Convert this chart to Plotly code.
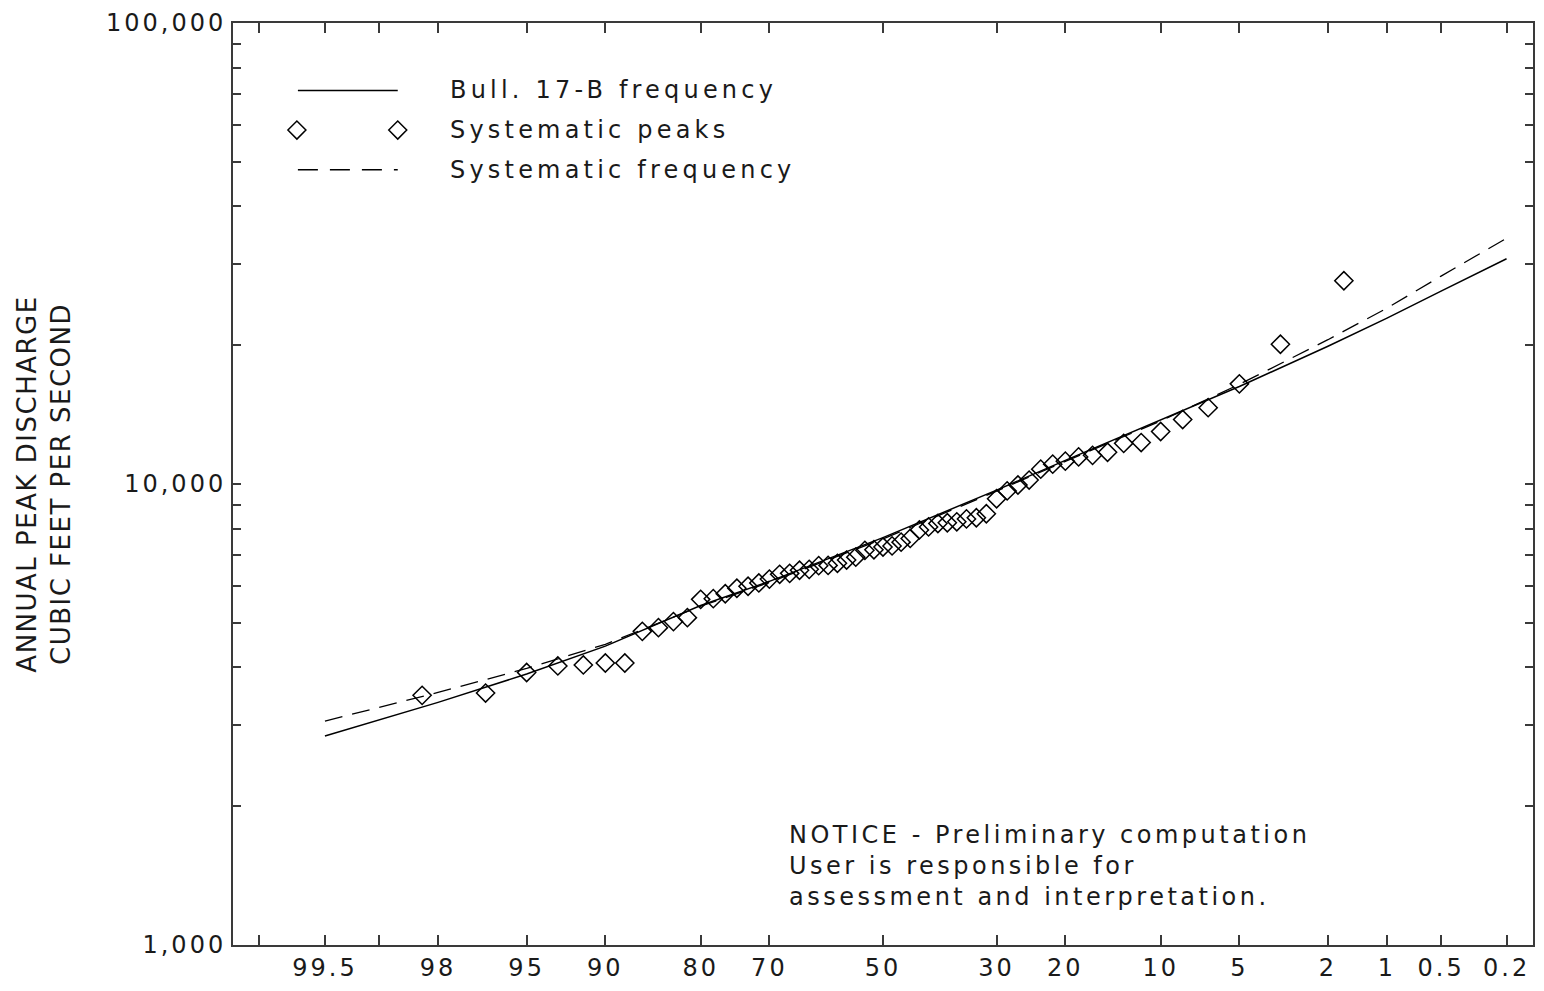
import plotly.graph_objects as go
from statistics import NormalDist

_nd = NormalDist()


def zval(p_exceed_pct):
    """Normal-probability axis position for an exceedance probability (percent)."""
    return _nd.inv_cdf(1.0 - p_exceed_pct / 100.0)


# ---------------- data ----------------
prob_ticks = [99.8, 99.5, 99, 98, 95, 90, 80, 70, 50, 30, 20, 10, 5, 2, 1, 0.5, 0.2]
prob_labels = ["", "99.5", "", "98", "95", "90", "80", "70", "50", "30", "20",
               "10", "5", "2", "1", "0.5", "0.2"]

q_ticks = [1000, 2000, 3000, 4000, 5000, 6000, 7000, 8000, 9000,
           10000, 20000, 30000, 40000, 50000, 60000, 70000, 80000, 90000, 100000]
q_labels = ["1,000", "", "", "", "", "", "", "", "",
            "10,000", "", "", "", "", "", "", "", "", "100,000"]

curve_prob = [99.5, 99, 98, 95, 90, 80, 70, 50, 30, 20, 10, 5, 2, 1, 0.5, 0.2]
bull17b_q = [2840, 3080, 3360, 3870, 4450, 5450, 6150, 7650, 9700, 11250,
             13750, 16270, 19900, 22900, 26200, 30800]
systematic_q = [3060, 3280, 3530, 3980, 4490, 5430, 6120, 7600, 9650, 11200,
                13700, 16450, 20560, 24070, 28250, 34130]

peak_prob = [1.67, 3.33, 5.00, 6.67, 8.33, 10.00, 11.67, 13.33, 15.00, 16.67,
             18.33, 20.00, 21.67, 23.33, 25.00, 26.67, 28.33, 30.00, 31.67, 33.33,
             35.00, 36.67, 38.33, 40.00, 41.67, 43.33, 45.00, 46.67, 48.33, 50.00,
             51.67, 53.33, 55.00, 56.67, 58.33, 60.00, 61.67, 63.33, 65.00, 66.67,
             68.33, 70.00, 71.67, 73.33, 75.00, 76.67, 78.33, 80.00, 81.67, 83.33,
             85.00, 86.67, 88.33, 90.00, 91.67, 93.33, 95.00, 96.67, 98.33]
peak_q = [27600, 20100, 16490, 14640, 13800, 13000, 12300, 12250, 11720, 11540,
          11450, 11210, 11040, 10770, 10200, 9950, 9660, 9290, 8620, 8450,
          8400, 8280, 8240, 8210, 8070, 7950, 7620, 7480, 7340, 7300,
          7200, 7180, 6940, 6840, 6730, 6660, 6650, 6530, 6500, 6400,
          6370, 6220, 6100, 6000, 5940, 5780, 5640, 5620, 5130, 5030,
          4880, 4790, 4090, 4090, 4050, 4030, 3900, 3520, 3480]

legend_names = ["Bull. 17-B frequency", "Systematic peaks", "Systematic frequency"]
notice_lines = ["NOTICE - Preliminary computation",
                "User is responsible for",
                "assessment and interpretation."]

# ---------------- figure ----------------
FONT = "DejaVu Sans"
INK = "#1a1a1a"
AX = "#3a3a3a"


def spaced(s, px):
    return f'<span style="letter-spacing:{px}px">{s}</span>' if s else ""


fig = go.Figure()

fig.add_trace(go.Scatter(
    x=[zval(p) for p in curve_prob], y=bull17b_q, mode="lines",
    line=dict(color="black", width=1.5), name=legend_names[0], showlegend=False))
fig.add_trace(go.Scatter(
    x=[zval(p) for p in curve_prob], y=systematic_q, mode="lines",
    line=dict(color="black", width=1.3, dash="18px,10px"),
    name=legend_names[2], showlegend=False))
fig.add_trace(go.Scatter(
    x=[zval(p) for p in peak_prob], y=peak_q, mode="markers",
    marker=dict(symbol="diamond-open", size=14, color="black",
                line=dict(width=1.5, color="black")),
    name=legend_names[1], showlegend=False))

# plot area in pixels (for decoration placement)
L, R, T, B = 233, 1535, 20, 950
W, H = R - L, B - T


def px(xp):
    return (xp - L) / W


def py(yp):
    return (B - yp) / H


shapes = []
# legend samples
shapes.append(dict(type="line", xref="paper", yref="paper",
                   x0=px(298), x1=px(398), y0=py(88), y1=py(88),
                   line=dict(color="black", width=1.5)))
shapes.append(dict(type="line", xref="paper", yref="paper",
                   x0=px(298), x1=px(398), y0=py(168), y1=py(168),
                   line=dict(color="black", width=1.3, dash="20px,12px")))
for cx in (297, 398):
    shapes.append(dict(type="path", xref="paper", yref="paper",
                       xsizemode="pixel", ysizemode="pixel",
                       xanchor=px(cx), yanchor=py(128),
                       path="M -9,0 L 0,9 L 9,0 L 0,-9 Z",
                       line=dict(color="black", width=1.5)))

annotations = []
for i, (name, yy) in enumerate(zip(legend_names, (88, 128, 168))):
    annotations.append(dict(xref="paper", yref="paper", x=px(448), y=py(yy),
                            xanchor="left", yanchor="middle", showarrow=False,
                            text=spaced(name, 4.2),
                            font=dict(family=FONT, size=24, color=INK)))
annotations.append(dict(xref="paper", yref="paper", x=px(788), y=py(870),
                        xanchor="left", yanchor="middle", showarrow=False,
                        align="left",
                        text="<br>".join(spaced(t, 3.5) for t in notice_lines),
                        font=dict(family=FONT, size=24, color=INK)))

fig.update_layout(
    width=1544, height=991,
    margin=dict(l=L, r=1544 - R, t=T, b=991 - B),
    paper_bgcolor="white", plot_bgcolor="white",
    shapes=shapes, annotations=annotations,
    font=dict(family=FONT, color=INK),
)

fig.update_xaxes(
    range=[zval(99.8651), zval(0.1349)],
    tickvals=[zval(p) for p in prob_ticks],
    ticktext=[spaced(t, 3) for t in prob_labels],
    ticks="inside", ticklen=10, tickwidth=1.5, tickcolor=AX,
    showline=True, linecolor=AX, linewidth=2, mirror="ticks",
    showgrid=False, zeroline=False,
    tickfont=dict(family=FONT, size=24, color=INK),
)
fig.update_yaxes(
    type="log", range=[3, 5],
    tickvals=q_ticks, ticktext=[spaced(t, 3) for t in q_labels],
    ticks="inside", ticklen=8, tickwidth=1.5, tickcolor=AX,
    showline=True, linecolor=AX, linewidth=2, mirror="ticks",
    showgrid=False, zeroline=False,
    tickfont=dict(family=FONT, size=24, color=INK),
    title=dict(text=spaced("ANNUAL PEAK DISCHARGE", 1.5) + "<br>" +
               spaced("CUBIC FEET PER SECOND", 1.5),
               font=dict(family=FONT, size=26, color=INK), standoff=28),
)

fig.write_html(
    "out.html",
    config={"displayModeBar": False},
    post_script="document.body.style.margin='0px';"
                "document.body.style.overflow='hidden';",
)
